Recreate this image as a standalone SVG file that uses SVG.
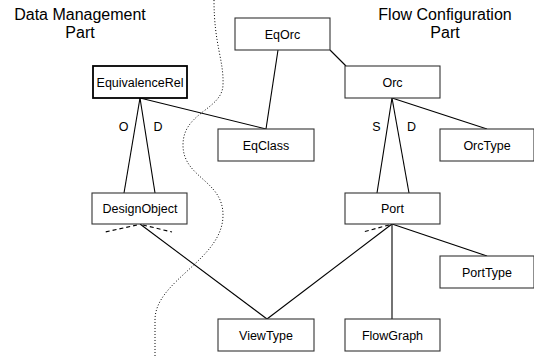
<svg xmlns="http://www.w3.org/2000/svg" width="534" height="358" viewBox="0 0 534 358">
<style>
.box{fill:#fff;stroke:#333;stroke-width:1.1}
.boxb{fill:#fff;stroke:#000;stroke-width:1.8}
.lbl{font-family:"Liberation Sans",Arial,sans-serif;font-size:12.5px;fill:#000;text-anchor:middle}
.hdr{font-family:"Liberation Sans",Arial,sans-serif;font-size:16px;fill:#000;text-anchor:middle}
.ln{stroke:#000;stroke-width:1.1;fill:none}
.dash{stroke:#000;stroke-width:1.1;fill:none;stroke-dasharray:4,3}
</style>
<rect width="534" height="358" fill="#fff"/>
<g id="headers">
<text class="hdr" x="80" y="20">Data Management</text>
<text class="hdr" x="80" y="38">Part</text>
<text class="hdr" x="445" y="20">Flow Configuration</text>
<text class="hdr" x="445" y="38">Part</text>
</g>
<path id="divider" d="M214,0 C214,45 224,60 223,85 C222,110 183,112 183,145 C183,178 223,180 223,215 C223,260 155,280 155,320 L155,358" fill="none" stroke="#000" stroke-width="1" stroke-dasharray="1,2"/>
<g id="connectors">
<line class="ln" x1="140" y1="98" x2="266" y2="129" stroke-width="2"/>
<line class="ln" x1="278" y1="50" x2="266" y2="129"/>
<line class="ln" x1="330" y1="50" x2="346" y2="66"/>
<line class="ln" x1="140" y1="98" x2="124" y2="193"/>
<line class="ln" x1="140" y1="98" x2="155" y2="193"/>
<line class="ln" x1="392" y1="98" x2="377" y2="193"/>
<line class="ln" x1="392" y1="98" x2="409" y2="193"/>
<line class="ln" x1="392" y1="98" x2="487" y2="129"/>
<line class="ln" x1="140" y1="224" x2="267" y2="319"/>
<line class="ln" x1="392" y1="224" x2="267" y2="319"/>
<line class="ln" x1="392" y1="224" x2="392" y2="319" stroke="#777" stroke-width="2"/>
<line class="ln" x1="392" y1="224" x2="487" y2="256"/>
<line class="dash" x1="137" y1="225" x2="105" y2="232"/>
<line class="dash" x1="143" y1="225" x2="172" y2="232"/>
<line class="dash" x1="389" y1="225" x2="363" y2="232"/>
<text class="lbl" x="123.5" y="131">O</text>
<text class="lbl" x="158" y="131">D</text>
<text class="lbl" x="376.5" y="131">S</text>
<text class="lbl" x="411.5" y="131">D</text>
</g>
<g id="EqOrc"><rect class="box" x="235" y="18" width="95" height="32"/><text class="lbl" x="282.5" y="38.5">EqOrc</text></g>
<g id="EquivalenceRel"><rect class="boxb" x="93" y="66" width="94" height="32"/><text class="lbl" x="140" y="86.5">EquivalenceRel</text></g>
<g id="Orc"><rect class="box" x="345" y="66" width="95" height="32"/><text class="lbl" x="392.5" y="86.5">Orc</text></g>
<g id="EqClass"><rect class="box" x="218" y="129" width="96" height="32"/><text class="lbl" x="266" y="149.5">EqClass</text></g>
<g id="OrcType"><rect class="box" x="440" y="129" width="94" height="32"/><text class="lbl" x="487" y="149.5">OrcType</text></g>
<g id="DesignObject"><rect class="box" x="92" y="193" width="95" height="31"/><text class="lbl" x="140" y="213">DesignObject</text></g>
<g id="Port"><rect class="box" x="345" y="193" width="95" height="31"/><text class="lbl" x="392.5" y="213">Port</text></g>
<g id="PortType"><rect class="box" x="440" y="256" width="94" height="32"/><text class="lbl" x="487" y="276.5">PortType</text></g>
<g id="ViewType"><rect class="box" x="218" y="319" width="96" height="32"/><text class="lbl" x="266" y="339.5">ViewType</text></g>
<g id="FlowGraph"><rect class="box" x="345" y="319" width="95" height="32"/><text class="lbl" x="392.5" y="339.5">FlowGraph</text></g>
</svg>
